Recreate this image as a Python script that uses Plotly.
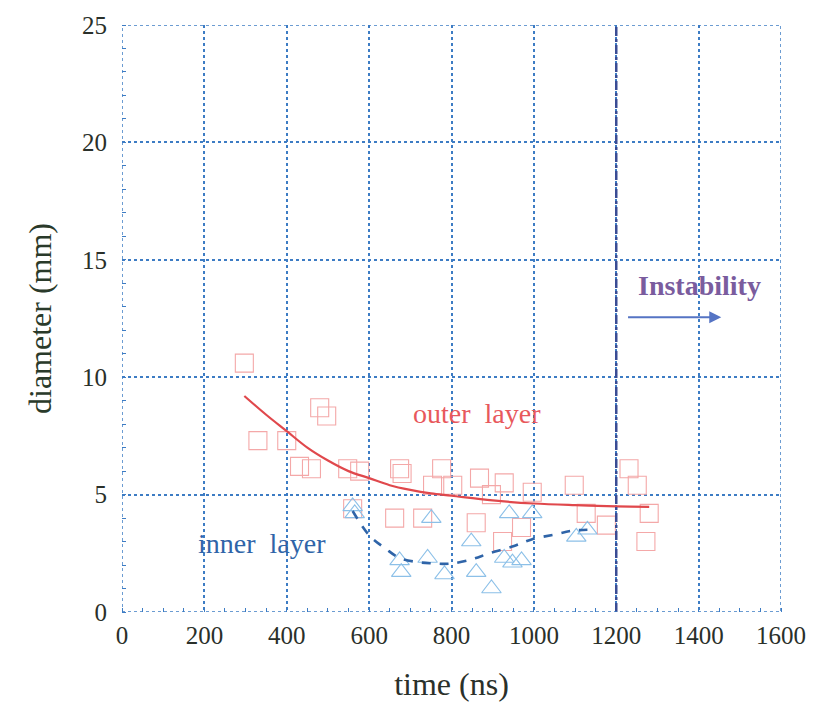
import plotly.graph_objects as go

# Outer layer (squares)
outer_t = [297, 330, 400, 431, 460, 480, 497, 548, 577, 674, 680, 662, 730, 754, 776, 803, 868, 897, 928, 860, 970, 924, 996, 1098, 1127, 1176, 1231, 1251, 1280, 1272, 560]
outer_d = [10.6, 7.3, 7.3, 6.2, 6.1, 8.7, 8.35, 6.1, 6.0, 6.1, 5.9, 4.0, 4.0, 5.4, 6.1, 5.4, 5.7, 5.0, 5.5, 3.8, 3.6, 3.0, 5.1, 5.4, 4.2, 3.7, 6.1, 5.4, 4.2, 3.0, 4.4]

# Inner layer (triangles)
inner_t = [560, 565, 674, 678, 742, 751, 783, 848, 860, 897, 940, 996, 928, 948, 970, 1103, 1130]
inner_d = [4.5, 4.2, 2.2, 1.7, 2.3, 4.0, 1.6, 3.0, 1.7, 1.0, 4.2, 4.2, 2.3, 2.1, 2.2, 3.2, 3.5]

# Fitted curves
outer_fit_t = [297, 350, 400, 450, 500, 550, 600, 650, 700, 750, 800, 900, 1000, 1100, 1200, 1280]
outer_fit_d = [9.2, 8.4, 7.7, 7.0, 6.45, 6.0, 5.7, 5.4, 5.2, 5.05, 4.95, 4.75, 4.62, 4.55, 4.5, 4.48]
inner_fit_t = [560, 601, 640, 674, 720, 754, 780, 803, 850, 892, 950, 996, 1050, 1093, 1130]
inner_fit_d = [4.3, 3.25, 2.7, 2.3, 2.12, 2.07, 2.05, 2.07, 2.25, 2.5, 2.8, 3.1, 3.3, 3.46, 3.5]

x_ticks = [0, 200, 400, 600, 800, 1000, 1200, 1400, 1600]
y_ticks = [0, 5, 10, 15, 20, 25]
instability_t = 1200

FONT = "Liberation Serif"
GRID = "#3d7cc4"

fig = go.Figure()
fig.add_trace(go.Scatter(x=outer_t, y=outer_d, mode="markers",
                         marker=dict(symbol="square-open", size=18, color="#f4a8a8", line=dict(width=1.1))))
fig.add_trace(go.Scatter(x=inner_t, y=inner_d, mode="markers",
                         marker=dict(symbol="triangle-up-open", size=17, color="#8cc0e8", line=dict(width=1.1))))
fig.add_trace(go.Scatter(x=outer_fit_t, y=outer_fit_d, mode="lines", line=dict(color="#e0484c", width=2.2, shape="spline")))
fig.add_trace(go.Scatter(x=inner_fit_t, y=inner_fit_d, mode="lines", line=dict(color="#2f64a8", width=2.6, dash="dash", shape="spline")))

fig.add_shape(type="line", x0=instability_t, x1=instability_t, y0=0, y1=25, xref="x", yref="y",
              line=dict(color="#3a4c94", width=2.5, dash="dashdot"))
fig.add_shape(type="rect", x0=0, x1=1600, y0=0, y1=25, xref="x", yref="y",
              line=dict(color=GRID, width=1.5, dash="dot"))

fig.add_annotation(x=1401, y=13.9, text="<b>Instability</b>", showarrow=False,
                   font=dict(family=FONT, size=28, color="#7a5c9e"))
fig.add_annotation(x=1455, y=12.55, ax=1225, ay=12.55, xref="x", yref="y", axref="x", ayref="y",
                   text="", showarrow=True, arrowhead=2, arrowsize=1.2, arrowwidth=2, arrowcolor="#5574c4")
fig.add_annotation(x=863, y=8.44, text="outer  layer", showarrow=False,
                   font=dict(family=FONT, size=28, color="#e8585c"))
fig.add_annotation(x=340, y=2.9, text="inner  layer", showarrow=False,
                   font=dict(family=FONT, size=28, color="#2f64a8"))

fig.update_xaxes(range=[0, 1600], tickvals=x_ticks, ticks="", showgrid=True, gridcolor=GRID, griddash="dot",
                 gridwidth=1.5, zeroline=False, showline=False, ticklabelstandoff=6,
                 tickfont=dict(family=FONT, size=25, color="#2a302a"),
                 title=dict(text="time (ns)", font=dict(family=FONT, size=32, color="#2a302a"), standoff=24),
                 minor=dict(dtick=50, ticks="inside", ticklen=4, tickcolor=GRID, showgrid=False))
fig.update_yaxes(range=[0, 25], tickvals=y_ticks, ticks="", showgrid=True, gridcolor=GRID, griddash="dot",
                 gridwidth=1.5, zeroline=False, showline=False, ticklabelstandoff=14,
                 tickfont=dict(family=FONT, size=25, color="#2a302a"),
                 title=dict(text="diameter (mm)", font=dict(family=FONT, size=32, color="#2a3a2a"), standoff=20),
                 minor=dict(dtick=1, ticks="inside", ticklen=4, tickcolor=GRID, showgrid=False))

fig.update_layout(width=818, height=708, margin=dict(l=122, r=35, t=20, b=96),
                  plot_bgcolor="white", paper_bgcolor="white", showlegend=False)

fig.write_html("out.html")
